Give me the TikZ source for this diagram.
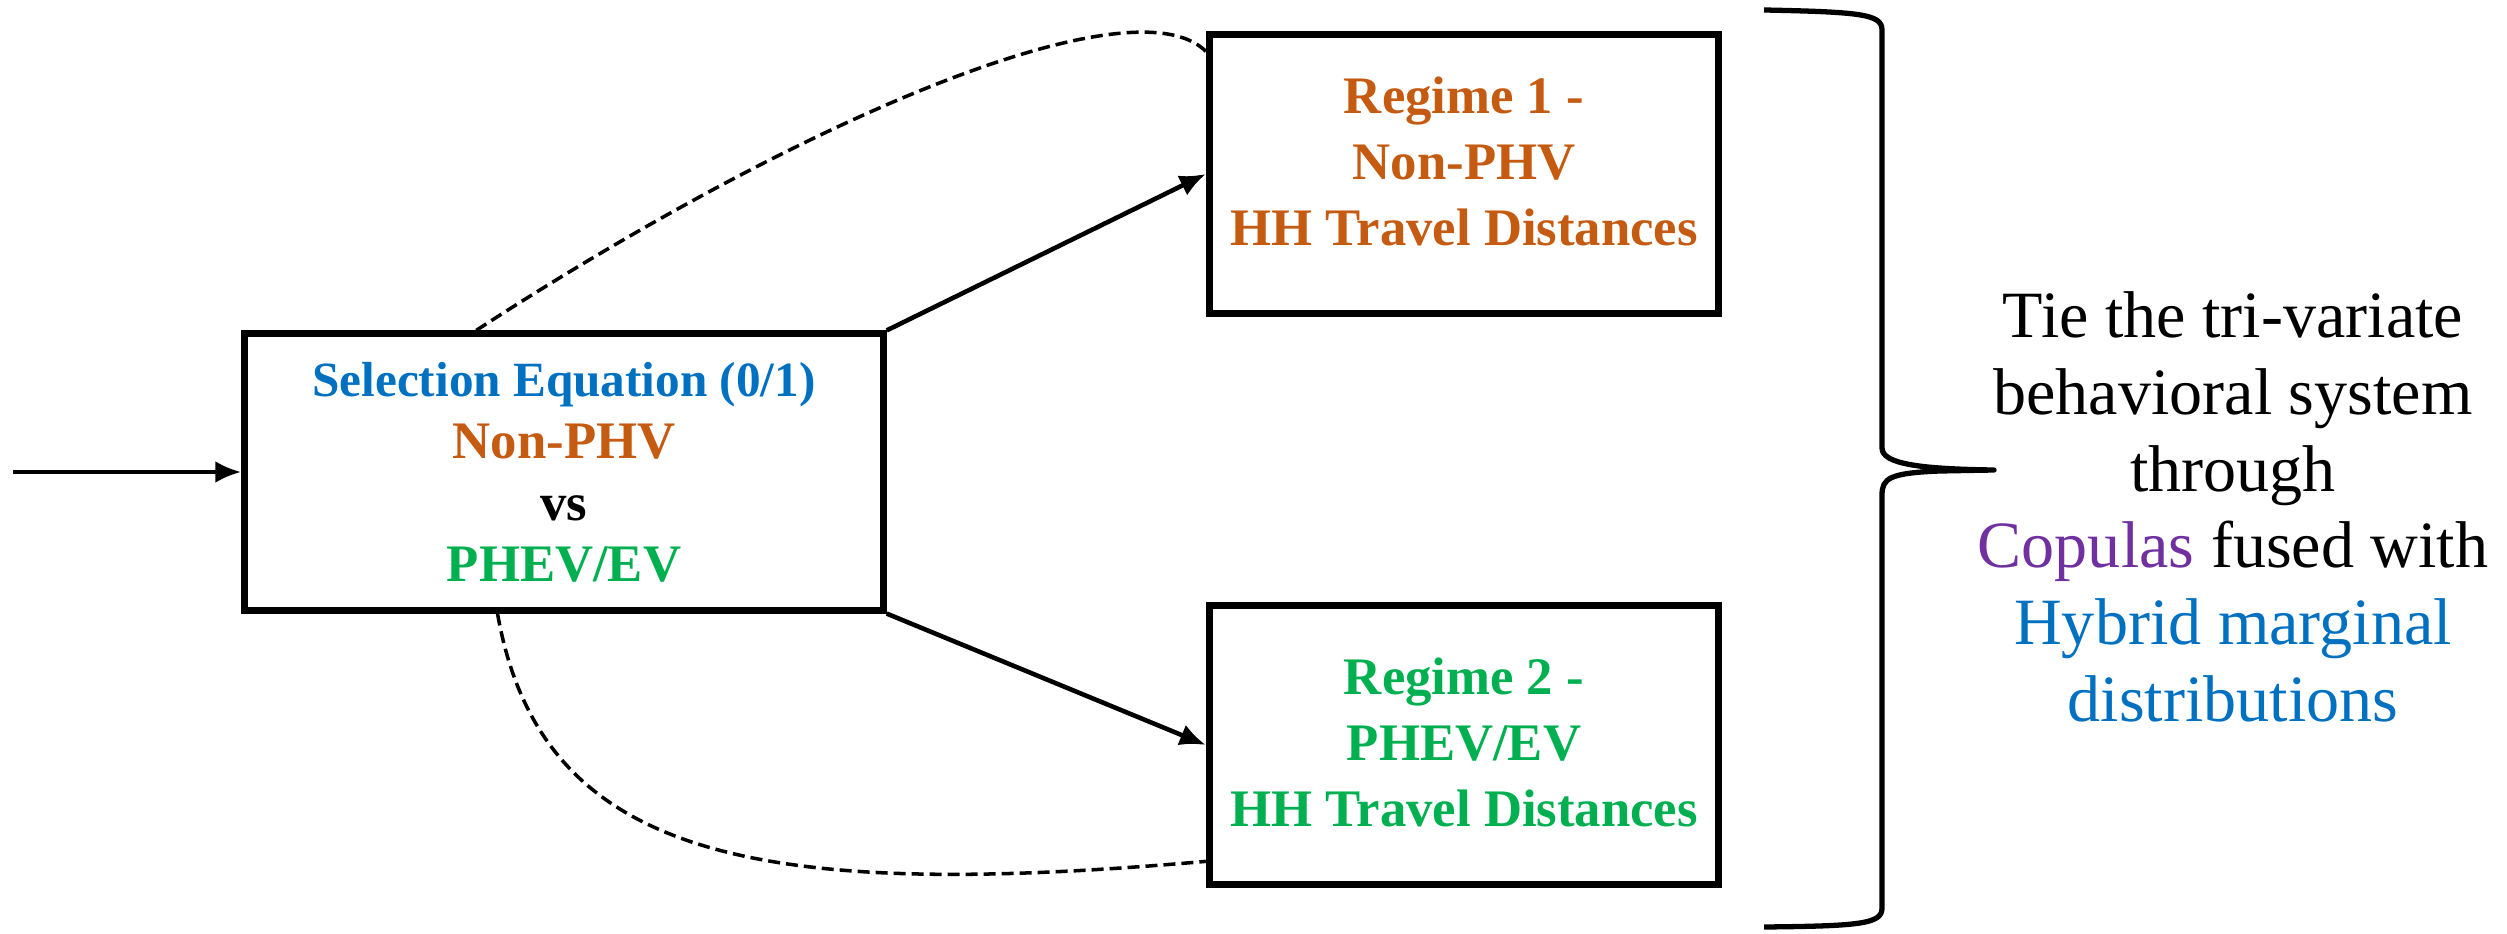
\documentclass[tikz,border=0pt]{standalone}
\usepackage{fontspec}
\setmainfont{Liberation Serif}
\usetikzlibrary{arrows.meta,calc}
\definecolor{selblue}{HTML}{0070C0}
\definecolor{regorange}{HTML}{C55A11}
\definecolor{reggreen}{HTML}{00B050}
\definecolor{copviolet}{HTML}{7030A0}

\begin{document}
\begin{tikzpicture}[x=0.01cm,y=-0.01cm,
    box/.style={draw, line width=2pt, align=center, font=\bfseries},
    link/.style={->, >={Latex[length=0.26cm,width=0.22cm]}, line width=1.3pt},
    tie/.style={dash pattern=on 0.12cm off 0.06cm, line width=1pt}]
  \useasboundingbox (0,0) rectangle (2507,934);

  \node[box, minimum width=6.38cm, minimum height=2.76cm, text depth=-0.12cm,
        font=\fontsize{15}{17.6}\selectfont\bfseries] (sel) at (564,472)
        {\textcolor{selblue}{\fontsize{14}{17.6}\selectfont Selection Equation (0/1)}\\
         \textcolor{regorange}{Non-PHV}\\ vs\\
         \textcolor{reggreen}{PHEV/EV}};
  \node[box, minimum width=5.09cm, minimum height=2.78cm, text depth=0.25cm,
        font=\fontsize{15}{18.8}\selectfont\bfseries] (reg1) at (1464,174)
        {\textcolor{regorange}{Regime 1 -}\\
         \textcolor{regorange}{Non-PHV}\\
         \textcolor{regorange}{HH Travel Distances}};
  \node[box, minimum width=5.09cm, minimum height=2.78cm, text depth=0.06cm,
        font=\fontsize{15}{18.8}\selectfont\bfseries] (reg2) at (1464,745)
        {\textcolor{reggreen}{Regime 2 -}\\
         \textcolor{reggreen}{PHEV/EV}\\
         \textcolor{reggreen}{HH Travel Distances}};
  \node[align=center, font=\fontsize{18.8}{21.8}\selectfont] (note) at (2233,507)
        {Tie the tri-variate\\ behavioral system\\ through\\
         \textcolor{copviolet}{Copulas} fused with\\
         \textcolor{selblue}{Hybrid marginal}\\
         \textcolor{selblue}{distributions}};
  \coordinate (src) at (13,472);

  \draw[link] (src) -- (sel.west);
  \draw[link] (sel.north east) -- (reg1.west);
  \draw[link] (sel.south east) -- (reg2.west);

  % dependence between the equations
  \draw[tie] ($(sel.north west)!0.364!(sel.north east)$)
        .. controls +(33:4cm) and +(135:1cm) ..
        ($(reg1.north west)!0.07!(reg1.south west)$);
  \draw[tie] ($(sel.south west)!0.397!(sel.south east)$)
        .. controls +(-80:2.5cm) and +(185:4.5cm) ..
        ($(reg2.north west)!0.908!(reg2.south west)$);

  % brace
  \draw[line width=1.5pt, line join=round]
        (1764,10) .. controls (1860,12) and (1882,14) .. (1882,30)
        -- (1882,448) .. controls (1882,464) and (1920,469) .. (1994,470)
        -- (1940,471) .. controls (1890,473) and (1882,478) .. (1882,495)
        -- (1882,908) .. controls (1882,924) and (1860,926) .. (1764,927);
\end{tikzpicture}
\end{document}
